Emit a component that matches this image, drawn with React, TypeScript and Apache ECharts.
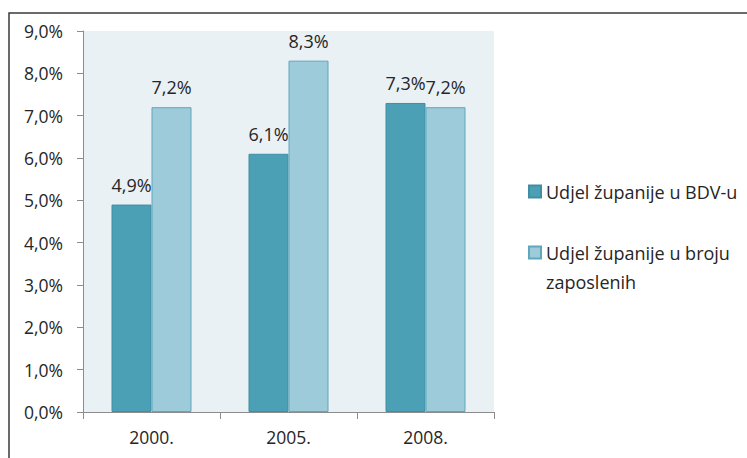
import React, { useEffect, useRef } from "react";
import * as echarts from "echarts";

const categories = ["2000.", "2005.", "2008."];
const seriesNames = ["Udjel županije u BDV-u", "Udjel županije u broju zaposlenih"];
const bdvShare = [4.9, 6.1, 7.3];
const employmentShare = [7.2, 8.3, 7.2];

const fmt = (v: number) => v.toFixed(1).replace(".", ",") + "%";
const FONT = "'Open Sans', sans-serif";
const TEXT = "#262626";

export default function App() {
  const ref = useRef<HTMLDivElement>(null);
  useEffect(() => {
    const chart = echarts.init(ref.current!, null, { renderer: "svg" });
    chart.setOption({
      animation: false,
      backgroundColor: "#ffffff",
      textStyle: { fontFamily: FONT },
      graphic: [
        {
          type: "rect",
          shape: { x: 9, y: 13, width: 800, height: 500 },
          style: { fill: "none", stroke: "#3a3a3a", lineWidth: 1.5 },
          silent: true,
        },
      ],
      grid: {
        left: 83,
        right: 253,
        top: 31,
        bottom: 46,
        show: true,
        backgroundColor: "#EAF1F5",
        borderWidth: 0,
      },
      legend: {
        orient: "vertical",
        left: 523,
        top: 172,
        itemWidth: 12,
        itemHeight: 12,
        itemGap: 3,
        icon: "rect",
        textStyle: { fontSize: 18, color: TEXT, fontFamily: FONT, lineHeight: 29 },
        data: [{ name: seriesNames[0] }, { name: seriesNames[1] }],
        formatter: (name: string) =>
          name === seriesNames[1] ? "\nUdjel županije u broju\nzaposlenih" : name,
      },
      xAxis: {
        type: "category",
        data: categories,
        axisLine: { lineStyle: { color: "#8c8c8c", width: 1 } },
        axisTick: { show: true, length: 7, lineStyle: { color: "#8c8c8c" } },
        axisLabel: { fontSize: 17.5, color: TEXT, margin: 16, fontFamily: FONT },
      },
      yAxis: {
        type: "value",
        min: 0,
        max: 9,
        interval: 1,
        axisLine: { show: true, lineStyle: { color: "#8c8c8c", width: 1 } },
        axisTick: { show: true, length: 6, lineStyle: { color: "#8c8c8c" } },
        splitLine: { show: false },
        axisLabel: {
          fontSize: 17.5,
          color: TEXT,
          margin: 20,
          fontFamily: FONT,
          formatter: (v: number) => fmt(v),
        },
      },
      series: [
        {
          name: seriesNames[0],
          type: "bar",
          data: bdvShare,
          barWidth: 40,
          barGap: "0%",
          itemStyle: { color: "#4BA0B5", borderColor: "#3F8FA4", borderWidth: 1 },
          label: {
            show: true,
            position: "top",
            distance: 11,
            fontSize: 18,
            color: TEXT,
            fontFamily: FONT,
            formatter: (p: any) => fmt(p.value),
          },
        },
        {
          name: seriesNames[1],
          type: "bar",
          data: employmentShare,
          barWidth: 40,
          barGap: "0%",
          itemStyle: { color: "#9ECBDA", borderColor: "#5FA7BC", borderWidth: 1 },
          label: {
            show: true,
            position: "top",
            distance: 11,
            fontSize: 18,
            color: TEXT,
            fontFamily: FONT,
            formatter: (p: any) => fmt(p.value),
          },
        },
      ],
    });
    return () => chart.dispose();
  }, []);
  return (
    <div
      ref={ref}
      style={{ position: "absolute", left: 0, top: 0, width: 747, height: 458 }}
    />
  );
}
